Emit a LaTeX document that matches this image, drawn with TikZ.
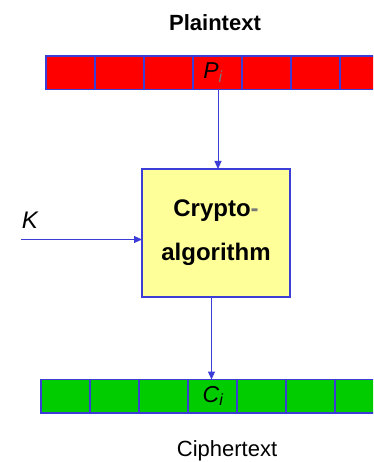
\documentclass[tikz,border=0pt]{standalone}
\usepackage{fontspec}
\setmainfont{Liberation Sans}
\usetikzlibrary{arrows.meta}
\definecolor{edgeblue}{RGB}{60,60,215}
\definecolor{plainred}{RGB}{255,0,0}
\definecolor{ciphgreen}{RGB}{0,204,0}
\definecolor{algoyellow}{RGB}{255,255,153}
\definecolor{subgray}{RGB}{120,120,120}
\tikzset{
  cell/.style={draw=edgeblue, line width=1.3pt, minimum width=49pt, minimum height=33.5pt,
    inner sep=0pt, outer sep=0pt, anchor=north west},
  redcell/.style={cell, fill=plainred},
  greencell/.style={cell, fill=ciphgreen},
  algobox/.style={draw=edgeblue, line width=1.6pt, fill=algoyellow, minimum width=148pt,
    minimum height=128pt, inner sep=0pt, outer sep=0pt, align=center,
    font=\fontsize{24}{44}\selectfont\bfseries},
  flow/.style={draw=edgeblue, line width=1pt, -{Triangle[length=8pt,width=7pt]}},
  celltext/.style={font=\fontsize{23}{23}\selectfont\itshape}
}
\begin{document}
\begin{tikzpicture}[x=1pt,y=-1pt]
  \useasboundingbox (0,0) rectangle (373,462);
  \clip (0,0) rectangle (373,462);
  % plaintext block row
  \foreach \n in {1,...,8} {
    \node[redcell] (p\n) at ({46+49*(\n-1)},56) {};
  }
  % ciphertext block row
  \foreach \n in {1,...,8} {
    \node[greencell] (c\n) at ({41+49*(\n-1)},379.5) {};
  }
  \node[celltext] (pi) at (213,72.5) {P\textsubscript{\textcolor{subgray}{i}}};
  \node[celltext] (ci) at (213,396) {C\textsubscript{i}};
  % titles
  \node[font=\fontsize{22}{22}\selectfont\bfseries] (ptitle) at (215,23) {Plaintext};
  \node[font=\fontsize{22}{22}\selectfont] (ctitle) at (227,451) {Ciphertext};
  % algorithm box
  \node[algobox] (algo) at (216,233) {Crypto\textcolor{subgray}{-}\\algorithm};
  % key input
  \coordinate (kin) at (21,239.5);
  \node[font=\fontsize{24}{24}\selectfont\itshape] (klabel) at (30,220) {K};
  % connectors
  \draw[flow] ([xshift=0.5pt]p4.south) -- ([xshift=0.5pt]p4.south |- algo.north);
  \draw[flow] ([xshift=-1pt]c4.north |- algo.south) -- ([xshift=-1pt]c4.north);
  \draw[flow] (kin) -- (kin -| algo.west);
\end{tikzpicture}
\end{document}
